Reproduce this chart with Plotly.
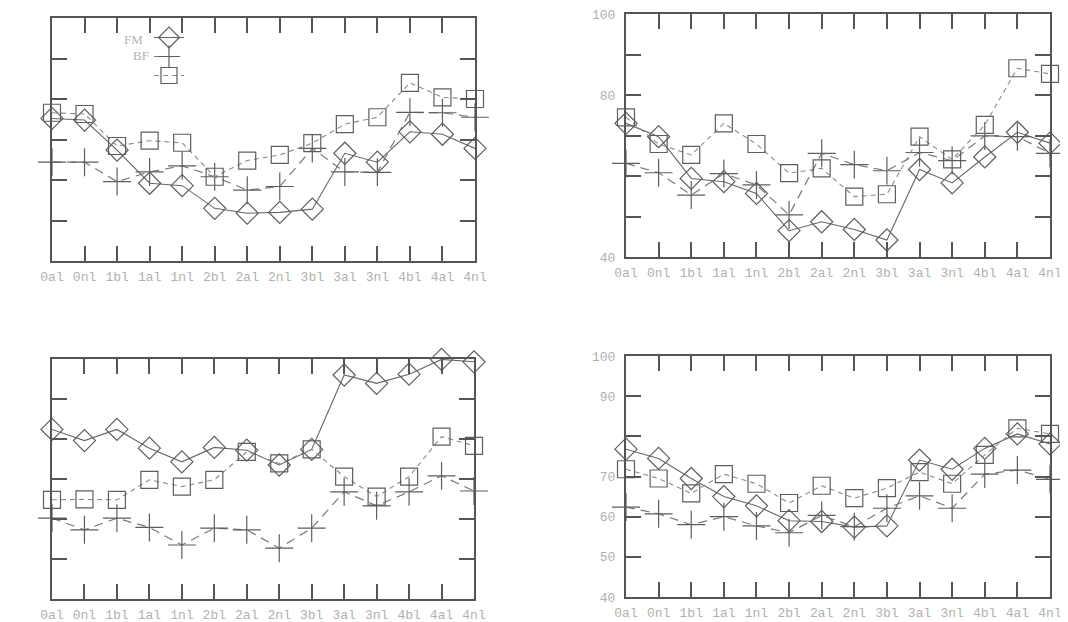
import plotly.graph_objects as go

categories = ["0al", "0nl", "1bl", "1al", "1nl", "2bl", "2al", "2nl",
              "3bl", "3al", "3nl", "4bl", "4al", "4nl"]
series_names = ["FM", "BF", ""]
y_ticks = [40, 50, 60, 70, 80, 90, 100]

# panel 1 (top left)
p1_diamond = [75.2, 74.8, 67.4, 59.2, 58.6, 53.0, 51.8, 52.0, 52.8, 66.6, 64.4, 71.9, 71.3, 67.8]
p1_plus    = [64.4, 64.4, 59.6, 62.0, 63.5, 60.8, 57.5, 58.4, 67.8, 62.0, 61.9, 76.7, 76.6, 75.5]
p1_square  = [76.6, 76.3, 68.4, 69.7, 69.2, 60.8, 64.8, 66.2, 69.1, 73.8, 75.5, 84.0, 80.4, 80.0]
# panel 2 (top right)
p2_diamond = [73.0, 69.7, 59.4, 58.6, 55.7, 46.5, 48.7, 46.8, 44.2, 61.6, 58.3, 64.7, 70.8, 68.1]
p2_plus    = [63.1, 60.8, 55.3, 60.6, 57.8, 50.4, 65.6, 62.8, 61.3, 65.8, 63.8, 69.9, 69.7, 65.6]
p2_square  = [74.5, 67.9, 65.2, 73.0, 67.9, 60.7, 61.9, 54.9, 55.5, 69.7, 64.1, 72.6, 86.6, 85.2]
# panel 3 (bottom left)
p3_diamond = [82.4, 79.6, 82.4, 77.7, 74.3, 77.9, 77.2, 73.5, 77.4, 96.0, 93.9, 96.2, 99.9, 99.3]
p3_plus    = [60.2, 57.3, 60.2, 57.9, 53.5, 57.7, 57.3, 52.7, 57.7, 66.8, 63.3, 66.8, 70.8, 67.0]
p3_square  = [64.8, 64.9, 64.8, 69.8, 68.1, 69.8, 76.8, 73.9, 77.4, 70.6, 65.6, 70.6, 80.6, 78.3]
# panel 4 (bottom right)
p4_diamond = [76.8, 74.5, 69.5, 65.0, 62.7, 59.0, 58.8, 57.4, 57.7, 74.1, 71.8, 77.0, 80.6, 78.1]
p4_plus    = [62.4, 60.7, 58.0, 60.0, 57.7, 56.0, 60.3, 57.5, 62.1, 65.2, 62.1, 70.6, 71.6, 69.3]
p4_square  = [71.8, 69.5, 65.8, 70.6, 68.2, 63.4, 67.7, 64.6, 67.1, 71.1, 68.2, 75.4, 82.0, 80.6]

panels = [
    (p1_diamond, p1_plus, p1_square),
    (p2_diamond, p2_plus, p2_square),
    (p3_diamond, p3_plus, p3_square),
    (p4_diamond, p4_plus, p4_square),
]

OFF = 8  # page body margin
W, H = 1060, 614
# screen pixel boxes (x0, x1, ytop, ybottom)
boxes = [(52, 475, 18, 261), (626, 1050, 14, 257), (52, 474, 359, 599), (626, 1050, 356, 597)]
# y tick labels shown per panel
ylabel_sets = [
    ["", "", "", "", "", "", ""],
    ["40", "", "", "", "80", "", "100"],
    ["", "", "", "", "", "", ""],
    ["40", "50", "60", "70", "", "90", "100"],
]


def px(x):
    return (x - OFF) / W


def py(y):
    return 1 - (y - OFF) / H


xs = list(range(len(categories)))
frame = "#555555"
fig = go.Figure()

styles = [
    dict(symbol="diamond-open", size=17, lc="#666666", dash="solid", lw=1.1),
    dict(symbol="cross-thin-open", size=20, lc="#7a7a7a", dash="9px,6px", lw=1.2),
    dict(symbol="square-open", size=17, lc="#8a8a8a", dash="5px,4px", lw=1.1),
]

for i, (vals, box, ylabs) in enumerate(zip(panels, boxes, ylabel_sets)):
    n = "" if i == 0 else str(i + 1)
    x0, x1, yt, yb = box
    for j, (v, st) in enumerate(zip(vals, styles)):
        fig.add_trace(go.Scatter(
            x=xs, y=v, mode="lines+markers", name=" ",
            xaxis="x" + n, yaxis="y" + n,
            line=dict(color=st["lc"], width=st["lw"], dash=st["dash"]),
            marker=dict(symbol=st["symbol"], size=st["size"], color="#5e5e5e",
                        line=dict(color="#5e5e5e", width=1.2)),
            cliponaxis=False, showlegend=(i == 0),
        ))
    common = dict(showline=True, linewidth=2, linecolor=frame, mirror="ticks",
                  ticks="inside", ticklen=15, tickwidth=2, tickcolor=frame,
                  showgrid=False, zeroline=False, fixedrange=True, automargin=False,
                  ticklabeloverflow="allow",
                  tickfont=dict(family="Liberation Mono", size=13, color="#b0b0b0"))
    fig.layout["xaxis" + n] = dict(common, domain=[px(x0), px(x1)], range=[0, 13],
                                   anchor="y" + n, tickvals=xs, ticktext=categories,
                                   ticklabelstandoff=2)
    fig.layout["yaxis" + n] = dict(common, domain=[py(yb), py(yt)], range=[40, 100],
                                   anchor="x" + n, tickvals=y_ticks, ticktext=ylabs,
                                   ticklabelstandoff=6)

fig.add_annotation(x=px(122), y=py(39), xref="paper", yref="paper", text=series_names[0],
                   showarrow=False, xanchor="left", yanchor="middle",
                   font=dict(family="Liberation Serif", size=13, color="#b5b5b5"))
fig.add_annotation(x=px(131), y=py(55), xref="paper", yref="paper", text=series_names[1],
                   showarrow=False, xanchor="left", yanchor="middle",
                   font=dict(family="Liberation Serif", size=13, color="#b5b5b5"))

fig.update_layout(
    width=W, height=H, margin=dict(l=0, r=0, t=0, b=0, autoexpand=False),
    paper_bgcolor="white", plot_bgcolor="white",
    legend=dict(x=px(149), y=py(23), xanchor="left", yanchor="top",
                bgcolor="rgba(0,0,0,0)", font=dict(size=7, color="#b5b5b5"),
                tracegroupgap=0, itemwidth=30),
)

fig.write_html("out.html")
